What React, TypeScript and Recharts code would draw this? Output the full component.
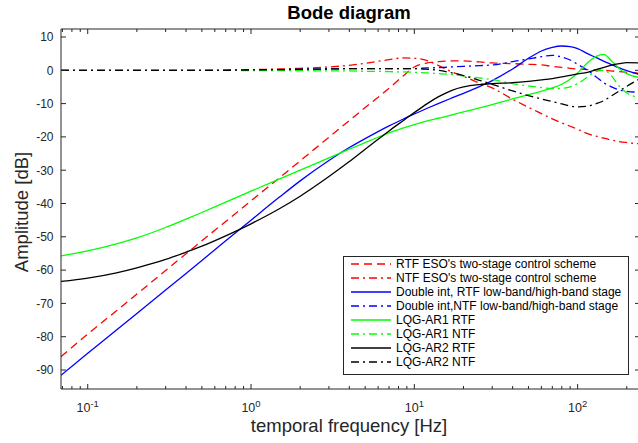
import { LineChart, Line, XAxis, YAxis, Legend, ReferenceLine } from 'recharts';

// frequency grid [Hz] and amplitudes [dB]
const FREQ = [0.0686, 0.1, 0.15, 0.2, 0.3, 0.4, 0.5, 0.7, 1, 1.5, 2, 3, 4, 5, 6, 7, 8.5, 10, 12, 14, 17, 20, 25, 30, 40, 50, 60, 70, 80, 90, 100, 115, 130, 145, 160, 180, 200, 241];

const RTF_ESO = [-86.0, -79.2, -72.2, -67.2, -60.1, -55.1, -51.2, -45.4, -39.2, -32.2, -27.2, -20.1, -15.1, -11.2, -8.1, -5.4, -1.8, 1.0, 2.2, 2.6, 2.8, 2.8, 2.5, 2.2, 2.0, 1.8, 1.6, 1.2, 0.9, 0.6, 0.4, 0.2, 0.1, 0.0, -0.2, -0.4, -0.6, -0.9];
const NTF_ESO = [0, 0, 0, 0, 0, 0, 0, 0.1, 0.2, 0.4, 0.6, 1.0, 1.5, 2.1, 2.7, 3.2, 3.7, 3.6, 2.9, 1.5, -0.5, -1.8, -3.8, -5.3, -8.7, -11.1, -13.0, -14.6, -15.8, -16.8, -17.7, -19.0, -19.8, -20.4, -20.9, -21.4, -21.7, -22.1];
const DI_RTF = [-91.6, -85.0, -78.0, -73.0, -66.0, -61.0, -57.1, -51.2, -45.0, -38.0, -33.2, -27.1, -23.2, -20.5, -18.4, -16.7, -14.7, -13.1, -11.4, -10.0, -8.3, -6.9, -4.9, -3.1, 0.4, 3.6, 5.8, 6.9, 7.3, 7.1, 6.5, 5.0, 3.8, 2.7, 1.8, 0.7, -0.1, -1.3];
const DI_NTF = [0, 0, 0, 0, 0, 0, 0, 0, 0.1, 0.2, 0.3, 0.4, 0.5, 0.5, 0.5, 0.5, 0.5, 0.5, 0.7, 0.8, 1.0, 1.2, 1.4, 1.6, 2.6, 3.4, 4.1, 4.5, 4.0, 3.1, 1.8, 0.0, -2.0, -3.8, -4.9, -5.9, -6.3, -6.6];
const AR1_RTF = [-55.7, -54.2, -52.1, -50.3, -47.2, -44.7, -42.7, -39.6, -36.3, -32.6, -30.0, -26.3, -23.7, -21.7, -20.1, -18.8, -17.4, -16.3, -15.2, -14.4, -13.4, -12.5, -11.3, -10.3, -8.6, -7.3, -6.3, -5.3, -4.2, -2.7, -0.8, 2.3, 4.2, 4.8, 3.0, 0.5, -1.0, -2.2];
const AR1_NTF = [0, 0, 0, 0, 0, 0, 0, 0, -0.1, -0.1, -0.1, -0.2, -0.2, -0.3, -0.3, -0.4, -0.5, -0.6, -0.8, -1.0, -1.3, -1.7, -2.3, -2.8, -4.0, -4.7, -5.2, -5.5, -5.4, -5.0, -4.0, -2.0, -0.3, 0.0, -1.5, -4.8, -6.8, -8.2];
const AR2_RTF = [-63.4, -62.4, -60.8, -59.3, -56.8, -54.6, -52.8, -49.7, -46.1, -41.5, -37.8, -31.9, -27.4, -23.7, -20.7, -18.2, -15.2, -12.7, -10.0, -8.0, -6.0, -5.0, -4.3, -4.0, -3.7, -3.3, -2.9, -2.5, -2.0, -1.5, -1.1, -0.6, 0.2, 0.9, 1.5, 2.0, 2.3, 2.2];
const AR2_NTF = [0, 0, 0, 0, 0, 0, 0, 0, 0.1, 0.2, 0.3, 0.4, 0.5, 0.5, 0.5, 0.5, 0.5, 0.5, 0.3, 0.0, -0.8, -1.6, -3.0, -4.2, -6.2, -7.6, -8.6, -9.4, -10.1, -10.7, -11.0, -10.8, -10.0, -9.1, -7.8, -6.2, -4.8, -2.5];

const X_TICKS = [0.07, 0.08, 0.09, 0.1, 0.2, 0.3, 0.4, 0.5, 0.6, 0.7, 0.8, 0.9, 1, 2, 3, 4, 5, 6, 7, 8, 9, 10, 20, 30, 40, 50, 60, 70, 80, 90, 100, 200];
const Y_TICKS = [-90, -80, -70, -60, -50, -40, -30, -20, -10, 0, 10];
const X_DOMAIN = [0.0686, 241];
const Y_DOMAIN = [-95.7, 12.4];

const SERIES = [
  { key: 'rtfEso', name: "RTF ESO's two-stage control scheme", color: '#ff0000', dash: '8 5' },
  { key: 'ntfEso', name: "NTF ESO's two-stage control scheme", color: '#ff0000', dash: '8 4 2 4' },
  { key: 'diRtf', name: 'Double int, RTF low-band/high-band stage', color: '#0000ff', dash: undefined },
  { key: 'diNtf', name: 'Double int,NTF low-band/high-band stage', color: '#0000ff', dash: '8 4 2 4' },
  { key: 'ar1Rtf', name: 'LQG-AR1 RTF', color: '#00ff00', dash: undefined },
  { key: 'ar1Ntf', name: 'LQG-AR1 NTF', color: '#00ff00', dash: '8 4 2 4' },
  { key: 'ar2Rtf', name: 'LQG-AR2 RTF', color: '#000000', dash: undefined },
  { key: 'ar2Ntf', name: 'LQG-AR2 NTF', color: '#000000', dash: '8 4 2 4' },
];

const rows = FREQ.map((f, i) => ({
  f,
  rtfEso: RTF_ESO[i],
  ntfEso: NTF_ESO[i],
  diRtf: DI_RTF[i],
  diNtf: DI_NTF[i],
  ar1Rtf: AR1_RTF[i],
  ar1Ntf: AR1_NTF[i],
  ar2Rtf: AR2_RTF[i],
  ar2Ntf: AR2_NTF[i],
}));

const FONT = '"Liberation Sans", Arial, Helvetica, sans-serif';
const AXIS = '#262626';
const W = 642;
const H = 443;
const PLOT_LEFT = 61;
const PLOT_TOP = 29;
const PLOT_RIGHT = 640;
const PLOT_BOTTOM = 389;

const XTick = (props: any) => {
  const { x, payload } = props;
  const lg = Math.log10(payload.value);
  const exp = Math.round(lg);
  const major = Math.abs(lg - exp) < 1e-6;
  const len = major ? 5 : 3;
  return (
    <g>
      <line x1={x} x2={x} y1={PLOT_BOTTOM} y2={PLOT_BOTTOM - len} stroke={AXIS} />
      <line x1={x} x2={x} y1={PLOT_TOP} y2={PLOT_TOP + len} stroke={AXIS} />
      {major && (
        <text x={x} y={411.5} textAnchor="middle" fontSize={12.5} fill={AXIS} fontFamily={FONT}>
          10<tspan dy={-5} fontSize={9.5}>{exp}</tspan>
        </text>
      )}
    </g>
  );
};

const YTick = (props: any) => {
  const { y, payload } = props;
  return (
    <g>
      <line x1={PLOT_LEFT} x2={PLOT_LEFT + 5} y1={y} y2={y} stroke={AXIS} />
      <line x1={PLOT_RIGHT} x2={PLOT_RIGHT - 5} y1={y} y2={y} stroke={AXIS} />
      <text x={53.5} y={y + 4.3} textAnchor="end" fontSize={12} fill={AXIS} fontFamily={FONT}>
        {payload.value}
      </text>
    </g>
  );
};

const LegendBox = () => (
  <svg width={286} height={119} style={{ display: 'block' }}>
    <rect x={0.5} y={0.5} width={285} height={118} fill="#fff" stroke={AXIS} />
    {SERIES.map((s, i) => {
      const y = 8 + i * 14;
      return (
        <g key={s.key}>
          <line x1={8} x2={48} y1={y} y2={y} stroke={s.color} strokeWidth={1.3} strokeDasharray={s.dash} />
          <text x={53} y={y + 4.2} fontSize={12} fill="#000" fontFamily={FONT}>
            {s.name}
          </text>
        </g>
      );
    })}
  </svg>
);

export default function App() {
  return (
    <div style={{ position: 'relative', width: 638, height: H, overflow: 'hidden', background: '#fff' }}>
      <style>{'body{margin:0}'}</style>
      <LineChart
        width={W}
        height={H}
        data={rows}
        margin={{ top: PLOT_TOP, right: W - PLOT_RIGHT, bottom: H - PLOT_BOTTOM - 30, left: 0 }}
      >
        <XAxis
          dataKey="f"
          type="number"
          scale="log"
          domain={X_DOMAIN}
          allowDataOverflow
          ticks={X_TICKS}
          interval={0}
          tick={<XTick />}
          tickLine={false}
          axisLine={{ stroke: AXIS }}
          height={30}
        />
        <YAxis
          type="number"
          domain={Y_DOMAIN}
          allowDataOverflow
          ticks={Y_TICKS}
          interval={0}
          tick={<YTick />}
          tickLine={false}
          axisLine={{ stroke: AXIS }}
          width={PLOT_LEFT}
        />
        <ReferenceLine y={Y_DOMAIN[1]} stroke={AXIS} />
        <ReferenceLine x={X_DOMAIN[1]} stroke={AXIS} />
        {SERIES.map((s) => (
          <Line
            key={s.key}
            dataKey={s.key}
            name={s.name}
            type="monotone"
            stroke={s.color}
            strokeWidth={1.3}
            strokeDasharray={s.dash}
            dot={false}
            activeDot={false}
            isAnimationActive={false}
          />
        ))}
        <Legend
          layout="vertical"
          align="center"
          verticalAlign="middle"
          content={<LegendBox />}
          wrapperStyle={{ position: 'absolute', left: 343, top: 256, width: 286, height: 119 }}
        />
      </LineChart>
      <svg
        width={638}
        height={H}
        style={{ position: 'absolute', left: 0, top: 0, pointerEvents: 'none' }}
      >
        <text x={349} y={18.5} textAnchor="middle" fontSize={18.5} fontWeight="bold" fill="#000" fontFamily={FONT}>
          Bode diagram
        </text>
        <text x={349} y={432} textAnchor="middle" fontSize={18.5} fill={AXIS} fontFamily={FONT}>
          temporal frequency [Hz]
        </text>
        <text
          x={28}
          y={212}
          textAnchor="middle"
          fontSize={18.5}
          fill={AXIS}
          fontFamily={FONT}
          transform="rotate(-90 28 212)"
        >
          Amplitude [dB]
        </text>
      </svg>
    </div>
  );
}
